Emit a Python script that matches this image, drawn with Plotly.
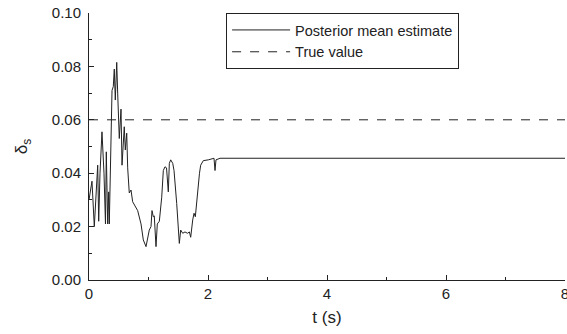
import plotly.graph_objects as go

t_est = [0.000, 0.017, 0.050, 0.089, 0.118, 0.146, 0.163, 0.185, 0.218, 0.252,
         0.277, 0.291, 0.314, 0.331, 0.341, 0.361, 0.387, 0.408, 0.425, 0.442,
         0.466, 0.482, 0.509, 0.538, 0.555, 0.593, 0.610, 0.634, 0.650, 0.677,
         0.706, 0.734, 0.778, 0.818, 0.874, 0.913, 0.958, 0.987, 1.013, 1.042,
         1.059, 1.081, 1.097, 1.126, 1.148, 1.182, 1.222, 1.249, 1.277, 1.303,
         1.333, 1.350, 1.373, 1.407, 1.429, 1.474, 1.518, 1.541, 1.575, 1.613,
         1.655, 1.687, 1.709, 1.743, 1.765, 1.787, 1.820, 1.857, 1.877, 1.921,
         2.005, 2.062, 2.101, 2.118, 2.134, 2.202, 8.000]
delta_est = [0.030, 0.033, 0.037, 0.020, 0.030, 0.043, 0.022, 0.040, 0.0555, 0.040,
             0.021, 0.048, 0.021, 0.033, 0.021, 0.045, 0.071, 0.0724, 0.079, 0.0674,
             0.0815, 0.070, 0.053, 0.064, 0.043, 0.0574, 0.0487, 0.055, 0.042, 0.0326,
             0.0337, 0.0293, 0.0275, 0.026, 0.021, 0.015, 0.0125, 0.016, 0.0187, 0.020,
             0.026, 0.0237, 0.024, 0.0125, 0.021, 0.022, 0.031, 0.041, 0.0424, 0.042,
             0.033, 0.0437, 0.045, 0.0437, 0.041, 0.0287, 0.0137, 0.0187, 0.0175, 0.018,
             0.0175, 0.018, 0.016, 0.0225, 0.025, 0.0237, 0.0325, 0.040, 0.043, 0.0447,
             0.045, 0.0452, 0.0456, 0.041, 0.045, 0.0456, 0.0456]
t_true = [0, 8]
delta_true = [0.06, 0.06]

font_family = "Liberation Sans, Arial, sans-serif"
ink = "#222222"

fig = go.Figure()
fig.add_trace(go.Scatter(x=t_est, y=delta_est, mode="lines",
                         name="Posterior mean estimate",
                         line=dict(color=ink, width=1)))
fig.add_trace(go.Scatter(x=t_true, y=delta_true, mode="lines",
                         name="True value",
                         line=dict(color=ink, width=1, dash="dash")))

axis_common = dict(showline=True, linecolor=ink, linewidth=1,
                   ticks="inside", ticklen=5, tickcolor=ink,
                   showgrid=False, zeroline=False, mirror=False,
                   automargin=False, ticklabeloverflow="allow",
                   tickfont=dict(size=15, color=ink, family=font_family))

fig.update_xaxes(range=[0, 8], dtick=2, tick0=0,
                 title=dict(text="t (s)", font=dict(size=17, color=ink, family=font_family), standoff=10),
                 minor=dict(ticks="inside", dtick=1, ticklen=3, tickcolor=ink),
                 **axis_common)
fig.update_yaxes(range=[0, 0.1], dtick=0.02, tick0=0, tickformat=".2f",
                 ticklabelstandoff=4,
                 title=dict(text="δ<sub>s</sub>", font=dict(size=17, color=ink, family=font_family), standoff=19),
                 minor=dict(ticks="inside", dtick=0.01, ticklen=3, tickcolor=ink),
                 **axis_common)

fig.update_layout(
    width=567, height=334,
    margin=dict(l=89, r=2, t=13, b=54),
    plot_bgcolor="white", paper_bgcolor="white",
    font=dict(family=font_family, color=ink, size=14),
    legend=dict(x=0.288, y=1.0, xanchor="left", yanchor="top",
                bordercolor=ink, borderwidth=1, bgcolor="white",
                font=dict(size=14.5, family=font_family, color=ink),
                tracegroupgap=0, itemwidth=58),
    showlegend=True,
)

fig.write_html("out.html",
               config={"displayModeBar": False},
               post_script="document.body.style.margin='0';document.body.style.overflow='hidden';")
